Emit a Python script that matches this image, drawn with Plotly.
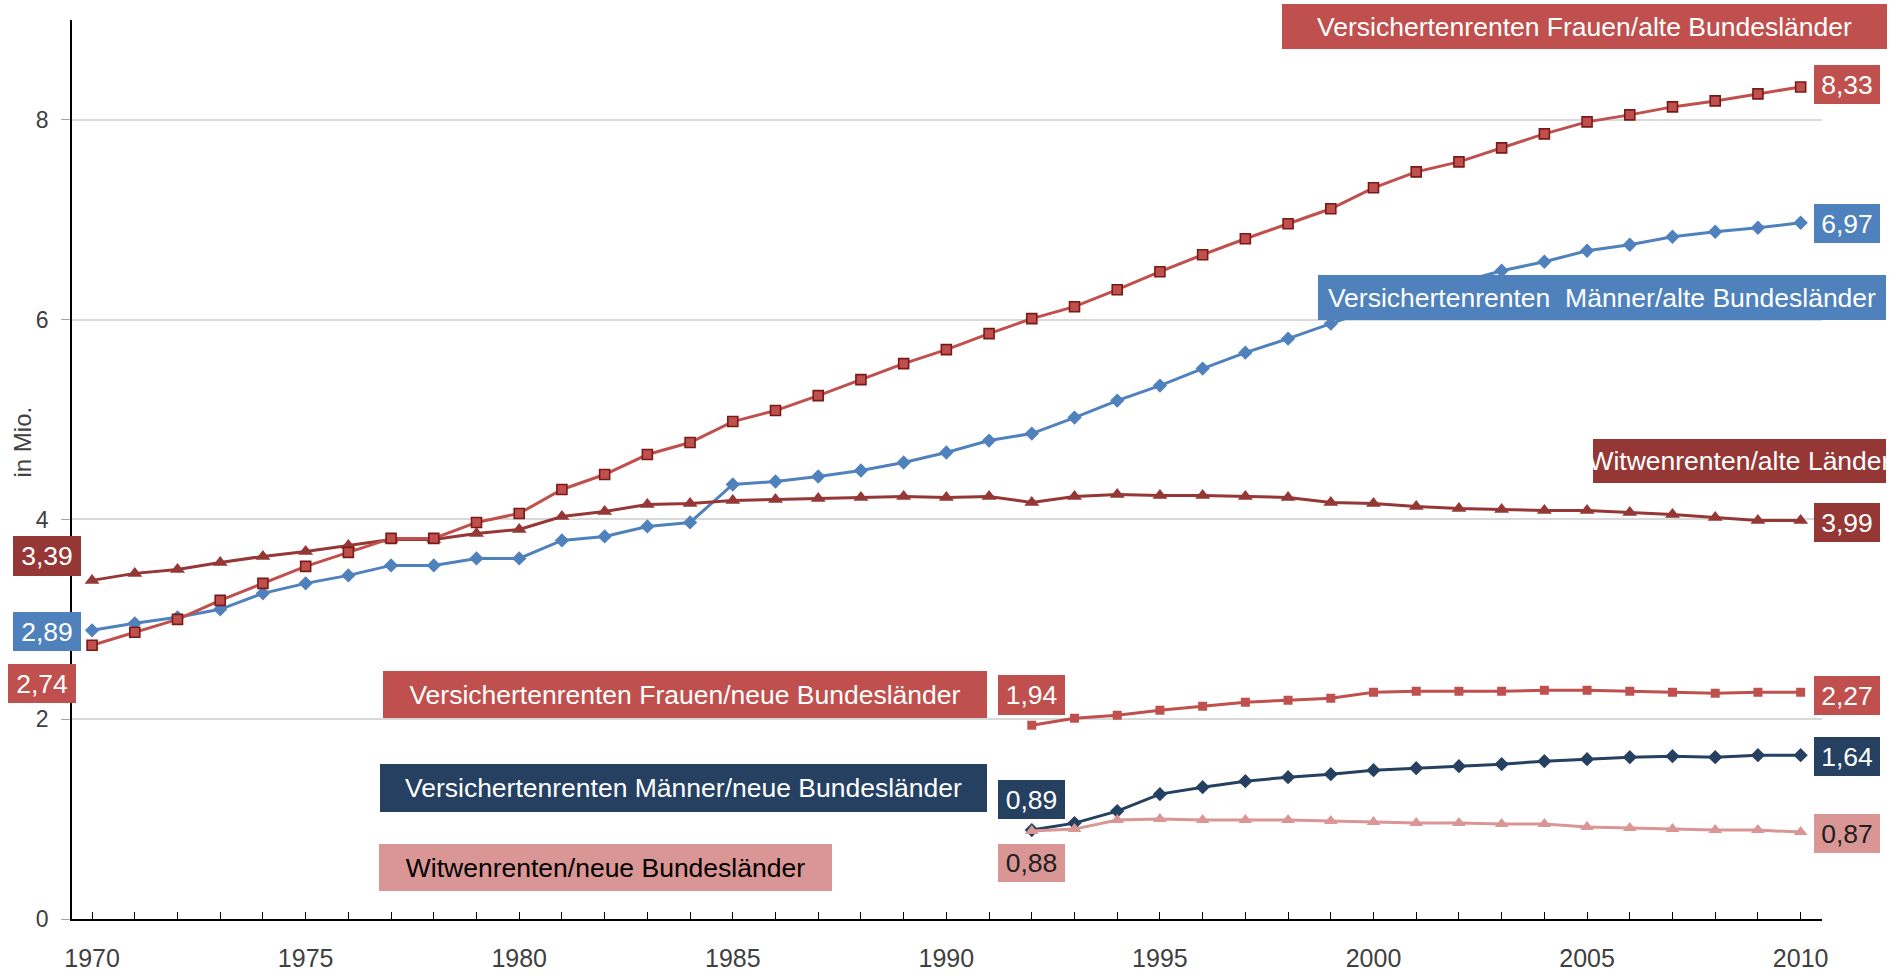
import plotly.graph_objects as go

# Renten-Bestand in Mio., alte Bundesländer 1970-2010, neue Bundesländer 1992-2010
years_alt = list(range(1970, 2011))
years_neu = list(range(1992, 2011))

frauen_alt = [2.74, 2.87, 3.00, 3.19, 3.36, 3.53, 3.67, 3.81, 3.81, 3.97,
              4.06, 4.30, 4.45, 4.65, 4.77, 4.98, 5.09, 5.24, 5.40, 5.56,
              5.70, 5.86, 6.01, 6.13, 6.30, 6.48, 6.65, 6.81, 6.96, 7.11,
              7.32, 7.48, 7.58, 7.72, 7.86, 7.98, 8.05, 8.13, 8.19, 8.26,
              8.33]
maenner_alt = [2.89, 2.96, 3.02, 3.10, 3.26, 3.36, 3.44, 3.54, 3.54, 3.61,
               3.61, 3.79, 3.83, 3.93, 3.97, 4.35, 4.38, 4.43, 4.49, 4.57,
               4.67, 4.79, 4.86, 5.02, 5.19, 5.34, 5.51, 5.67, 5.81, 5.96,
               6.11, 6.24, 6.37, 6.49, 6.58, 6.69, 6.75, 6.83, 6.88, 6.92,
               6.97]
witwen_alt = [3.39, 3.46, 3.50, 3.57, 3.63, 3.68, 3.74, 3.80, 3.80, 3.86,
              3.90, 4.03, 4.08, 4.15, 4.16, 4.19, 4.20, 4.21, 4.22, 4.23,
              4.22, 4.23, 4.17, 4.23, 4.25, 4.24, 4.24, 4.23, 4.22, 4.17,
              4.16, 4.13, 4.11, 4.10, 4.09, 4.09, 4.07, 4.05, 4.02, 3.99,
              3.99]
frauen_neu = [1.94, 2.01, 2.04, 2.09, 2.13, 2.17, 2.19, 2.21, 2.27, 2.28,
              2.28, 2.28, 2.29, 2.29, 2.28, 2.27, 2.26, 2.27, 2.27]
maenner_neu = [0.89, 0.96, 1.08, 1.25, 1.32, 1.38, 1.42, 1.45, 1.49, 1.51,
               1.53, 1.55, 1.58, 1.60, 1.62, 1.63, 1.62, 1.64, 1.64]
witwen_neu = [0.88, 0.90, 0.99, 1.00, 0.99, 0.99, 0.99, 0.98, 0.97, 0.96,
              0.96, 0.95, 0.95, 0.92, 0.91, 0.90, 0.89, 0.89, 0.87]

x_ticks = [1970, 1975, 1980, 1985, 1990, 1995, 2000, 2005, 2010]
y_ticks = [0, 2, 4, 6, 8]

RED = "#C0504D"
BLUE = "#4F81BD"
DARKRED = "#953735"
NAVY = "#254061"
PINK = "#D99694"

FONT = "Liberation Sans, Arial, sans-serif"
TXT = 26.5


def de(v):
    return f"{v:.2f}".replace(".", ",")


fig = go.Figure()

series = [
    (years_alt, maenner_alt, BLUE, "diamond", 11, BLUE, 0),
    (years_alt, witwen_alt, DARKRED, "triangle-up", 13, DARKRED, 0),
    (years_alt, frauen_alt, RED, "square", 10, "#7A1A17", 1.6),
    (years_neu, maenner_neu, NAVY, "diamond", 11, NAVY, 0),
    (years_neu, witwen_neu, PINK, "triangle-up", 12, PINK, 0),
    (years_neu, frauen_neu, RED, "square", 9, RED, 0),
]
for xs, ys, col, sym, size, lc, lw in series:
    fig.add_trace(go.Scatter(
        x=xs, y=ys, mode="lines+markers",
        line=dict(color=col, width=3),
        marker=dict(symbol=sym, size=size, color=col, line=dict(color=lc, width=lw)),
        showlegend=False, hoverinfo="skip",
    ))


def box(text, x, y, w, h, bg, fc="white", **kw):
    fig.add_annotation(
        text=text, x=x, y=y, xref="x", yref="y", showarrow=False,
        width=w, height=h, bgcolor=bg, borderwidth=0, borderpad=0,
        font=dict(family=FONT, size=TXT, color=fc), align="center", valign="middle",
        **kw,
    )


# series names
box("Versichertenrenten Frauen/alte Bundesländer", 2004.95, 8.93, 605, 45, RED)
box("Versichertenrenten\u00a0 Männer/alte Bundesländer", 2005.35, 6.22, 568, 45, BLUE)
box("Witwenrenten/alte Länder", 2008.58, 4.59, 293, 44, DARKRED)
box("Versichertenrenten Frauen/neue Bundesländer", 1983.89, 2.25, 604, 47, RED)
box("Versichertenrenten Männer/neue Bundesländer", 1983.85, 1.31, 607, 48, NAVY)
box("Witwenrenten/neue Bundesländer", 1982.03, 0.52, 453, 47, PINK, fc="black")

# start and end values
vw, vh = 66, 39
for ys, col, dy in [(frauen_alt, RED, 2), (maenner_alt, BLUE, -1),
                    (witwen_alt, DARKRED, -2)]:
    box(de(ys[-1]), years_alt[-1], ys[-1], vw, vh, col,
        xanchor="left", xshift=13.5, yshift=dy)
for ys, col, fc, dy in [(frauen_neu, RED, "white", -3), (maenner_neu, NAVY, "white", -1),
                        (witwen_neu, PINK, "#202020", -1)]:
    box(de(ys[-1]), years_neu[-1], ys[-1], vw, vh, col, fc=fc,
        xanchor="left", xshift=13.5, yshift=dy)

box(de(witwen_alt[0]), years_alt[0], witwen_alt[0], 68, 40, DARKRED,
    xanchor="right", xshift=-10.7, yshift=24)
box(de(maenner_alt[0]), years_alt[0], maenner_alt[0], 68, 39, BLUE,
    xanchor="right", xshift=-10.7, yshift=-1)
box(de(frauen_alt[0]), years_alt[0], frauen_alt[0], 68, 39, RED,
    xanchor="right", xshift=-15.7, yshift=-38)

box(de(frauen_neu[0]), years_neu[0], frauen_neu[0], 67, 40, RED, yshift=30)
box(de(maenner_neu[0]), years_neu[0], maenner_neu[0], 67, 39, NAVY, yshift=31)
box(de(witwen_neu[0]), years_neu[0], witwen_neu[0], 67, 38, PINK, fc="#202020", yshift=-32)

fig.add_annotation(
    text="in Mio.", xref="paper", yref="paper", x=-0.028, y=0.53,
    xanchor="center", yanchor="middle",
    textangle=-90, showarrow=False,
    font=dict(family=FONT, size=24, color="#404040"),
)

fig.update_layout(
    width=1904, height=974,
    margin=dict(l=72, r=82, t=20, b=55),
    paper_bgcolor="white", plot_bgcolor="white",
    font=dict(family=FONT, color="#404040"),
)
fig.update_xaxes(
    range=[1969.53, 2010.5], automargin=False,
    tickvals=x_ticks, ticktext=[str(v) for v in x_ticks],
    ticks="inside", ticklen=7, tickcolor="black", tickwidth=1,
    minor=dict(dtick=1, tick0=1970, ticks="inside", ticklen=7,
               tickcolor="black", tickwidth=1, showgrid=False),
    showline=True, linecolor="black", linewidth=2,
    showgrid=False, zeroline=False,
    tickfont=dict(family=FONT, size=25, color="#404040"),
    ticklabelstandoff=16,
)
fig.update_yaxes(
    range=[0, 9], automargin=False,
    tickvals=y_ticks,
    ticks="outside", ticklen=9, tickcolor="#A6A6A6", tickwidth=1,
    showline=True, linecolor="black", linewidth=1.5,
    showgrid=True, gridcolor="#D9D9D9", gridwidth=1.5,
    zeroline=False,
    tickfont=dict(family=FONT, size=23, color="#404040"),
    ticklabelstandoff=8,
)

fig.write_html("out.html")
